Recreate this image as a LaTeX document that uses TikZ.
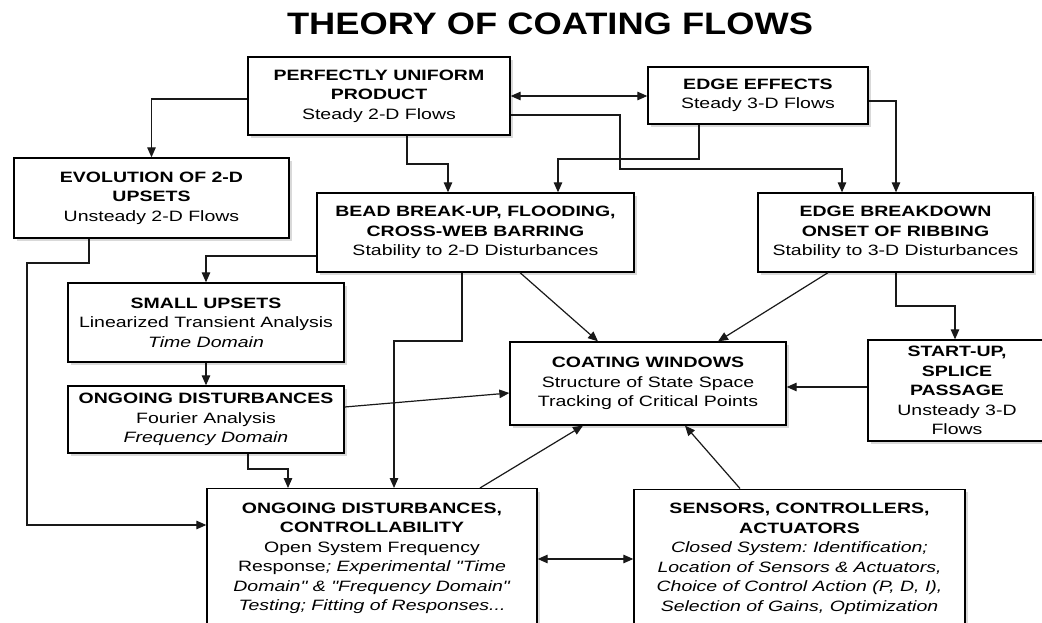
\documentclass[tikz,border=0pt]{standalone}
\usepackage{fontspec}
\setmainfont[FakeStretch=1.3, Ligatures=TeXOff]{Liberation Sans}
\newfontfamily\titlefont[FakeStretch=1.17]{Liberation Sans}
\usetikzlibrary{arrows.meta,shadows}
\frenchspacing
\tikzset{
  box/.style={draw=black, line width=1.3pt, fill=white, align=center,
    font=\fontsize{15}{19.5}\selectfont, inner sep=4pt,
    drop shadow={shadow xshift=2.5pt, shadow yshift=-3pt, opacity=0.3}},
  arr/.style={draw=black!90, line width=1.2pt, -{Triangle[length=10pt,width=8.5pt]}},
  dbl/.style={draw=black!90, line width=1.2pt, {Triangle[length=10pt,width=8.5pt]}-{Triangle[length=10pt,width=8.5pt]}}
}
\begin{document}
\begin{tikzpicture}[x=1pt,y=-1pt]
\useasboundingbox (0,0) rectangle (1042,623);
\clip (0,0) rectangle (1042,623);

\node[font=\titlefont\fontsize{31}{36}\selectfont\bfseries] (title) at (550,24) {THEORY OF COATING FLOWS};

\node[box, minimum width=262pt, minimum height=78pt] (PUP) at (379,96)
  {\textbf{PERFECTLY UNIFORM}\\\textbf{PRODUCT}\\Steady 2-D Flows};
\node[box, minimum width=220pt, minimum height=57pt] (EE) at (758,95.5)
  {\textbf{EDGE EFFECTS}\\Steady 3-D Flows};
\node[box, minimum width=275pt, minimum height=80pt] (Evo) at (151.5,198)
  {\textbf{EVOLUTION OF 2-D}\\\textbf{UPSETS}\\Unsteady 2-D Flows};
\node[box, minimum width=317pt, minimum height=79pt] (Bead) at (475.5,232.5)
  {\textbf{BEAD BREAK-UP, FLOODING,}\\\textbf{CROSS-WEB BARRING}\\Stability to 2-D Disturbances};
\node[box, minimum width=275pt, minimum height=79pt] (EB) at (895.5,232.5)
  {\textbf{EDGE BREAKDOWN}\\\textbf{ONSET OF RIBBING}\\Stability to 3-D Disturbances};
\node[box, minimum width=276pt, minimum height=79pt] (SU) at (206,322.5)
  {\textbf{SMALL UPSETS}\\Linearized Transient Analysis\\\textit{Time Domain}};
\node[box, minimum width=276pt, minimum height=67pt] (OD) at (206,419.5)
  {\textbf{ONGOING DISTURBANCES}\\Fourier Analysis\\\textit{Frequency Domain}};
\node[box, minimum width=276pt, minimum height=83pt] (CW) at (648,383.5)
  {\textbf{COATING WINDOWS}\\Structure of State Space\\Tracking of Critical Points};
\node[box, minimum width=178pt, minimum height=101pt] (SP) at (957,390.5)
  {\textbf{START-UP,}\\\textbf{SPLICE}\\\textbf{PASSAGE}\\Unsteady 3-D\\Flows};
\node[box, anchor=north, minimum width=330pt, inner ysep=14pt] (OC) at (372,488)
  {\textbf{ONGOING DISTURBANCES,}\\\textbf{CONTROLLABILITY}\\Open System Frequency\\Response\textit{; Experimental "Time}\\\textit{Domain" \& "Frequency Domain"}\\\textit{Testing; Fitting of Responses...}\\\rule{0pt}{30pt}};
\node[box, anchor=north, minimum width=331pt, inner ysep=14pt] (Sen) at (799.5,488.5)
  {\textbf{SENSORS, CONTROLLERS,}\\\textbf{ACTUATORS}\\\textit{Closed System: Identification;}\\\textit{Location of Sensors \& Actuators,}\\\textit{Choice of Control Action (P, D, I),}\\\textit{Selection of Gains, Optimization}\\\rule{0pt}{30pt}};

\draw[arr] (PUP.west |- 0,99) -| (Evo.north);
\draw[arr] (PUP.south -| 407,0) |- (448,164) -- (Bead.north -| 448,0);
\draw[dbl] (PUP.east) -- (PUP.east -| EE.west);
\draw[arr] (PUP.east |- 0,115) -| (620,169) -| (EB.north -| 842,0);
\draw[arr] (EE.south -| 699,0) |- (558,159) -- (Bead.north -| 558,0);
\draw[arr] (EE.east |- 0,101) -| (EB.north -| 896,0);
\draw[arr] (Evo.south -| 89,0) |- (27,263) |- (OC.west |- 0,525);
\draw[arr] (Bead.west |- 0,256) -| (SU.north);
\draw[arr] (SU.south) -- (OD.north);
\draw[arr] (OD.east |- 0,407) -- (CW.west |- 0,393);
\draw[arr] (Bead.south -| 462,0) |- (394,341) -- (OC.north -| 394,0);
\draw[arr] (OD.south -| 248,0) |- (288,469) -- (OC.north -| 288,0);
\draw[arr] (Bead.south -| 520,0) -- (CW.north -| 598,0);
\draw[arr] (EB.south -| 828,0) -- (CW.north -| 718,0);
\draw[arr] (EB.south -| 896,0) |- (955,306) -- (SP.north -| 955,0);
\draw[arr] (SP.west |- 0,387) -- (CW.east |- 0,387);
\draw[arr] (OC.north -| 480,0) -- (CW.south -| 583,0);
\draw[arr] (Sen.north -| 740,0) -- (CW.south -| 685,0);
\draw[dbl] (OC.east |- 0,559) -- (Sen.west |- 0,559);
\end{tikzpicture}
\end{document}
